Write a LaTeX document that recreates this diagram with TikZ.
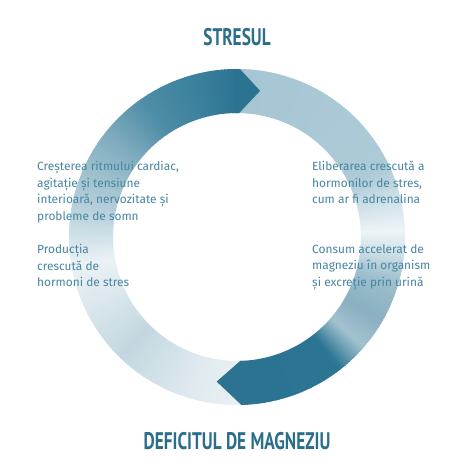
\documentclass[tikz,border=0pt]{standalone}
\usepackage{fontspec}
\setmainfont{PT Sans}
\newfontfamily\bodyfont{Fira Sans}
\definecolor{dk}{HTML}{2B7391}
\definecolor{titlec}{HTML}{2B6E8A}
\definecolor{txt}{HTML}{4786A1}
\begin{document}
\begin{tikzpicture}[x=1pt,y=1pt,
  bodytext/.style={anchor=north west,inner sep=0pt,align=left,text=txt,
    font=\bodyfont\fontsize{11.9}{16.7}\selectfont},
  titletext/.style={inner sep=0pt,text=titlec,font=\bfseries\fontsize{24}{26}\selectfont}]
\useasboundingbox[fill=white] (0,0) rectangle (474,474);
\def\Ro{168}\def\Ri{124}
\begin{scope}[shift={(237,237)}]
% gradient ring: angle_a/angle_b/colour_a/colour_b
\foreach \ta/\tb/\ca/\cb in {
  -88.5/-52/2B7391/2C7592,
  -52/-41/2C7592/A3C2D0,
  -41/-30/A3C2D0/8AB0C1,
  -30/-16/8AB0C1/9EBFCD,
  -16/-6/9EBFCD/CFE0E7,
  -6/2/CFE0E7/EEF4F7,
  2/12/EEF4F7/D3E3EA,
  12/25/D3E3EA/ADCAD7,
  25/89/ADCAD7/A6C6D4,
  89/104/2B7391/3A809C,
  104/124/3A809C/4E8DA7,
  124/140/4E8DA7/7BA9BC,
  140/155/7BA9BC/9CBFCD,
  155/172/9CBFCD/BCD4DE,
  172/190/BCD4DE/EBF2F5,
  190/206/EBF2F5/DAE7ED,
  206/226/DAE7ED/C3D7E0,
  226/242/C3D7E0/D4E3E9,
  242/256/D4E3E9/E2EBF0,
  256/271.5/E2EBF0/E9F0F3}{
  \definecolor{ka}{HTML}{\ca}\definecolor{kb}{HTML}{\cb}
  \pgfmathtruncatemacro\n{max(1,ceil(\tb-\ta))}
  \pgfmathsetmacro\d{(\tb-\ta)/\n}
  \foreach \i in {1,...,\n}{
    \pgfmathsetmacro\aa{\ta+(\i-1)*\d}
    \pgfmathsetmacro\bb{min(\ta+\i*\d+0.4,\tb+0.4)}
    \pgfmathtruncatemacro\p{100*(\i-0.5)/\n}
    \fill[kb!\p!ka] (\aa:\Ro) arc[start angle=\aa,end angle=\bb,radius=\Ro]
      -- (\bb:\Ri) arc[start angle=\bb,end angle=\aa,radius=\Ri] -- cycle;
  }
}
% chevron tips
\fill[dk] (91:\Ro) -- (89:\Ro) -- (81:148) -- (89:\Ri) -- (91:\Ri) -- cycle;
\fill[dk] (-86.5:\Ro) -- (-88.5:\Ro) -- (-98:146) -- (-88.5:\Ri) -- (-86.5:\Ri) -- cycle;
\end{scope}
\node[titletext] (stres) at (237,437) {\scalebox{0.72}[1]{STRESUL}};
\node[titletext] (defic) at (237,33) {\scalebox{0.72}[1]{DEFICITUL DE MAGNEZIU}};
\node[bodytext] (t1) at (37,313) {Creșterea ritmului cardiac,\\agitație și tensiune\\interioară, nervozitate și\\probleme de somn};
\node[bodytext] (t2) at (37,230) {Producția\\crescută de\\hormoni de stres};
\node[bodytext] (t3) at (312,313) {Eliberarea crescută a\\hormonilor de stres,\\cum ar fi adrenalina};
\node[bodytext] (t4) at (312,230) {Consum accelerat de\\magneziu în organism\\și excreție prin urină};
\end{tikzpicture}
\end{document}
